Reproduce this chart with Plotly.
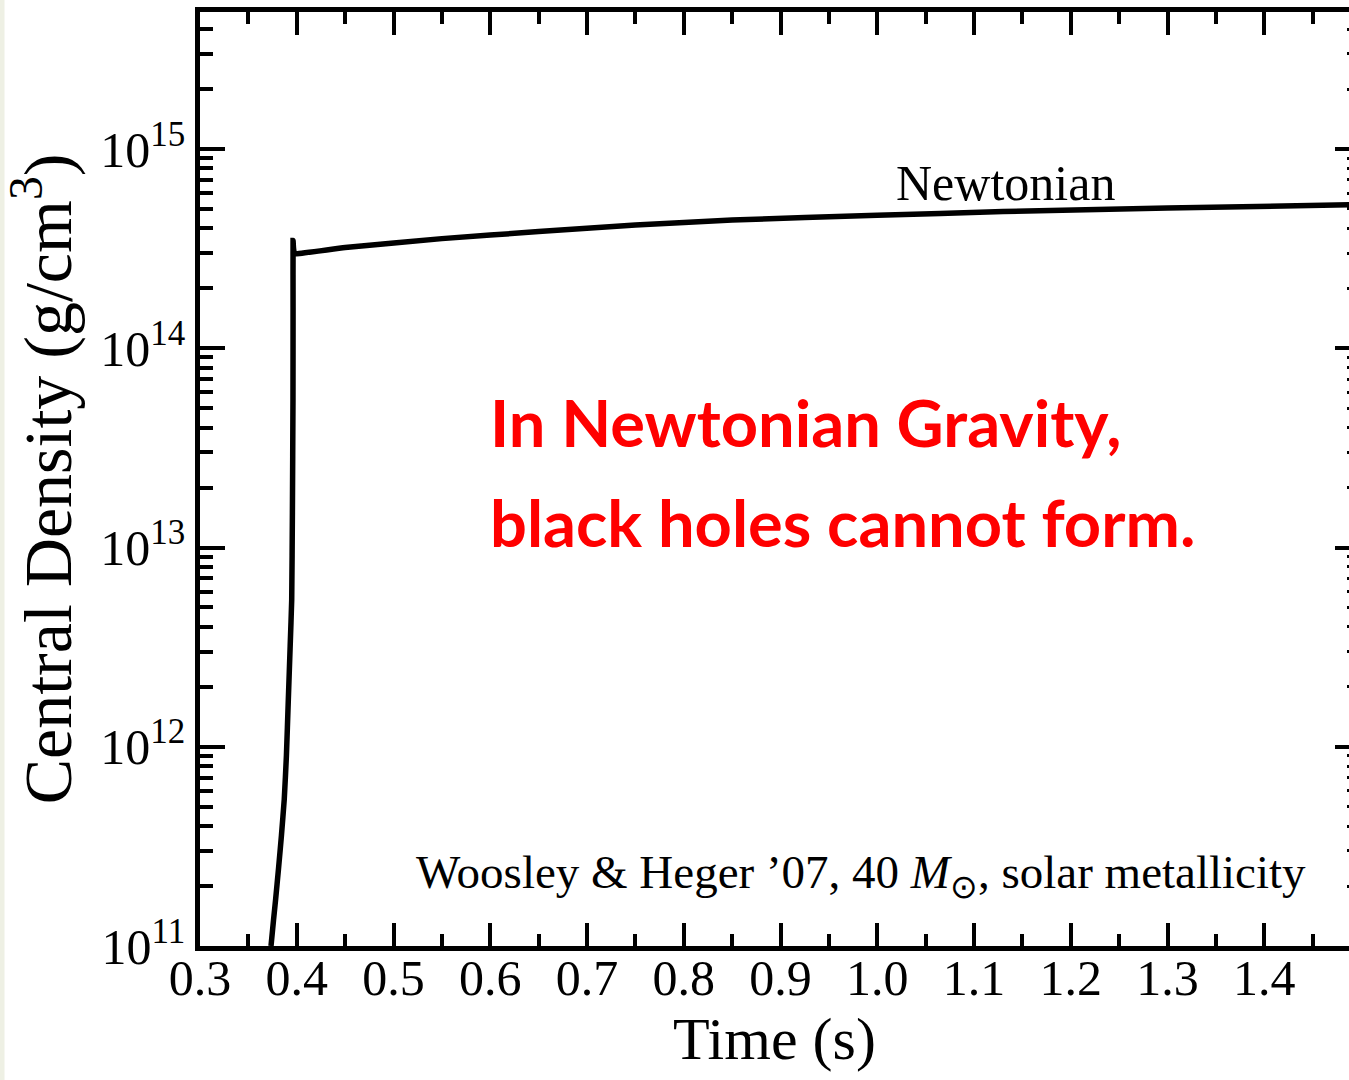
import plotly.graph_objects as go

# Data (time in s, central density in g/cm^3)
time_s = [0.3734, 0.3760, 0.3782, 0.3811, 0.3842, 0.3871, 0.3893, 0.3913, 0.3932, 0.3948,
          0.3955, 0.3961, 0.3962, 0.3962, 0.3966, 0.3975, 0.3992, 0.4500, 0.5500,
          0.6500, 0.7500, 0.8500, 1.0000, 1.1300, 1.3000, 1.4900]
central_density = [1.0e11, 1.35e11, 1.72e11, 2.43e11, 3.6e11, 5.46e11, 9.0e11, 1.73e12, 3.2e12, 5.48e12,
                   1.5e13, 5.5e13, 1.6e14, 3.47e14, 3.2e14, 3.0e14, 2.98e14, 3.2e14, 3.55e14,
                   3.85e14, 4.15e14, 4.4e14, 4.65e14, 4.85e14, 5.05e14, 5.25e14]

x_tickvals = [0.3, 0.4, 0.5, 0.6, 0.7, 0.8, 0.9, 1.0, 1.1, 1.2, 1.3, 1.4]
x_ticktext = ["0.3", "0.4", "0.5", "0.6", "0.7", "0.8", "0.9", "1.0", "1.1", "1.2", "1.3", "1.4"]
x_minor = [0.35, 0.45, 0.55, 0.65, 0.75, 0.85, 0.95, 1.05, 1.15, 1.25, 1.35, 1.45]
y_tickvals = [1e11, 1e12, 1e13, 1e14, 1e15]
y_ticktext = ["10<sup>11</sup>", "10<sup>12</sup>", "10<sup>13</sup>", "10<sup>14</sup>", "10<sup>15</sup>"]
y_minor = [k * 10 ** n for n in range(11, 16) for k in range(2, 10) if k * 10 ** n <= 5e15]

SERIF = "Liberation Serif, Times New Roman, serif"
W, H = 1349, 1080
ML, MT, MB = 200, 12, 134
PX_PER_S = 967.5
PLOT_H = H - MT - MB
Y_TOP = 11 + PLOT_H / 199.25


def py(pixel_y):
    return (H - MB - pixel_y) / PLOT_H


def px(pixel_x):
    return (pixel_x - ML) / (W - ML)


fig = go.Figure()
fig.add_trace(go.Scatter(x=time_s, y=central_density, mode="lines",
                         line=dict(color="black", width=5.5, shape="spline", smoothing=0.4),
                         showlegend=False, hoverinfo="skip"))
fig.add_trace(go.Scatter(x=[1.0], y=[1e13], yaxis="y2", mode="markers",
                         marker=dict(opacity=0), showlegend=False, hoverinfo="skip"))

fig.update_layout(
    width=W, height=H,
    margin=dict(l=ML, r=0, t=MT, b=MB, pad=0),
    paper_bgcolor="white", plot_bgcolor="white",
    font=dict(family=SERIF, color="black"),
    xaxis=dict(
        range=[0.3, 0.3 + (W - ML) / PX_PER_S], showgrid=False, zeroline=False,
        showline=True, linecolor="black", linewidth=4.5, mirror="ticks",
        tickmode="array", tickvals=x_tickvals, ticktext=x_ticktext,
        ticks="inside", ticklen=23, tickwidth=3.5, tickcolor="black",
        tickfont=dict(size=50, family=SERIF), ticklabelstandoff=-16,
        minor=dict(tickmode="array", tickvals=x_minor, ticks="inside", ticklen=12,
                   tickwidth=3.5, tickcolor="black", showgrid=False),
        title=dict(text="Time (s)", font=dict(size=60, family=SERIF), standoff=14),
    ),
    yaxis=dict(
        type="log", range=[11, Y_TOP], showgrid=False, zeroline=False,
        showline=True, linecolor="black", linewidth=4.5, mirror=False,
        tickmode="array", tickvals=y_tickvals, ticktext=y_ticktext,
        ticks="inside", ticklen=25, tickwidth=3.5, tickcolor="black",
        tickfont=dict(size=50, family=SERIF),
        minor=dict(tickmode="array", tickvals=y_minor, ticks="inside", ticklen=13,
                   tickwidth=3.5, tickcolor="black", showgrid=False),
        title=dict(text="Central Density (g/cm<sup>3</sup>)", font=dict(size=68, family=SERIF),
                   standoff=10),
    ),
    yaxis2=dict(
        type="log", range=[11, Y_TOP], overlaying="y", side="right",
        showgrid=False, zeroline=False, showline=False,
        tickmode="array", tickvals=y_tickvals, showticklabels=False,
        ticks="inside", ticklen=14, tickwidth=3.5, tickcolor="black",
        minor=dict(tickmode="array", tickvals=y_minor, ticks="inside", ticklen=2,
                   tickwidth=3, tickcolor="black", showgrid=False),
    ),
)

# thin light strip at the very left edge of the page
fig.add_shape(type="rect", xref="paper", yref="paper", xsizemode="pixel", xanchor=0,
              x0=-ML, x1=-ML + 4.5, y0=-0.2, y1=1.1, fillcolor="#eef0e4",
              line=dict(width=0), layer="below")

fig.add_annotation(text="Newtonian", xref="paper", yref="paper", x=px(1005), xanchor="center",
                   y=py(183), yanchor="middle", showarrow=False,
                   font=dict(size=50, family=SERIF, color="black"))
fig.add_annotation(text="Woosley &amp; Heger ’07, 40 <i>M</i><sub>⊙</sub>, solar metallicity",
                   xref="paper", yref="paper", x=px(1308), xanchor="right",
                   y=py(875), yanchor="middle", showarrow=False,
                   font=dict(size=47, family=SERIF, color="black"))
fig.add_annotation(text="<b>In Newtonian Gravity,</b>", xref="paper", yref="paper",
                   x=px(488), xanchor="left", y=py(422), yanchor="middle",
                   showarrow=False, font=dict(size=65, family="Lato, sans-serif", color="#ff0000"))
fig.add_annotation(text="<b>black holes cannot form.</b>", xref="paper", yref="paper",
                   x=px(488), xanchor="left", y=py(522), yanchor="middle",
                   showarrow=False, font=dict(size=65, family="Lato, sans-serif", color="#ff0000"))

fig.write_html("out.html")
